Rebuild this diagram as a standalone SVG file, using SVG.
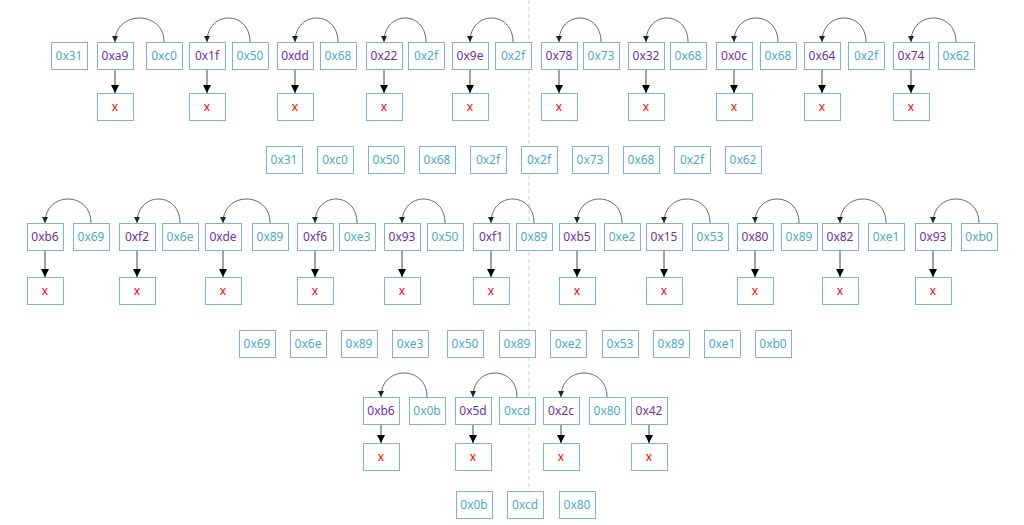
<svg xmlns="http://www.w3.org/2000/svg" width="1024" height="525" viewBox="0 0 1024 525">
<style>
.b{fill:#fff;stroke:#7DB4DE;stroke-width:1}
.t{font-family:"Noto Sans","DejaVu Sans",sans-serif;font-size:12px;text-anchor:middle}
.p{fill:#7030A0}.c{fill:#4BACC6}.r{fill:#FF0000}
.arc{fill:none;stroke:#666;stroke-width:1}
.dn{fill:none;stroke:#444;stroke-width:1}
.sep{stroke:#D0D0D0;stroke-width:1;stroke-dasharray:4 3}
</style>
<defs>
<marker id="ah" markerUnits="userSpaceOnUse" markerWidth="6" markerHeight="6" refX="6" refY="3" orient="auto"><path d="M0,0 L6,3 L0,6 z" fill="#222"/></marker>
<marker id="dh" markerUnits="userSpaceOnUse" markerWidth="8" markerHeight="8" refX="8" refY="4" orient="auto"><path d="M0,0 L8,4 L0,8 z" fill="#000"/></marker>
<symbol id="bx" overflow="visible"><rect class="b" x="0.5" y="0.5" width="36" height="27"/></symbol>
</defs>
<rect width="1024" height="525" fill="#fff"/>
<line class="sep" x1="529" y1="0" x2="529" y2="491"/>
<g id="connectors">
<path class="arc" marker-end="url(#ah)" d="M164,42 C164,10 115,10 115,42"/>
<path class="arc" marker-end="url(#ah)" d="M250,42 C250,10 207,10 207,42"/>
<path class="arc" marker-end="url(#ah)" d="M338,42 C338,10 295,10 295,42"/>
<path class="arc" marker-end="url(#ah)" d="M426,42 C426,10 384,10 384,42"/>
<path class="arc" marker-end="url(#ah)" d="M513,42 C513,10 470,10 470,42"/>
<path class="arc" marker-end="url(#ah)" d="M601,42 C601,10 559,10 559,42"/>
<path class="arc" marker-end="url(#ah)" d="M688,42 C688,10 646,10 646,42"/>
<path class="arc" marker-end="url(#ah)" d="M778,42 C778,10 734,10 734,42"/>
<path class="arc" marker-end="url(#ah)" d="M866,42 C866,10 822,10 822,42"/>
<path class="arc" marker-end="url(#ah)" d="M956,42 C956,10 911,10 911,42"/>
<path class="dn" marker-end="url(#dh)" d="M115,70 L115,93"/>
<path class="dn" marker-end="url(#dh)" d="M207,70 L207,93"/>
<path class="dn" marker-end="url(#dh)" d="M295,70 L295,93"/>
<path class="dn" marker-end="url(#dh)" d="M384,70 L384,93"/>
<path class="dn" marker-end="url(#dh)" d="M470,70 L470,93"/>
<path class="dn" marker-end="url(#dh)" d="M559,70 L559,93"/>
<path class="dn" marker-end="url(#dh)" d="M646,70 L646,93"/>
<path class="dn" marker-end="url(#dh)" d="M734,70 L734,93"/>
<path class="dn" marker-end="url(#dh)" d="M822,70 L822,93"/>
<path class="dn" marker-end="url(#dh)" d="M911,70 L911,93"/>
<path class="arc" marker-end="url(#ah)" d="M91,223 C91,191 45,191 45,223"/>
<path class="arc" marker-end="url(#ah)" d="M180,223 C180,191 137,191 137,223"/>
<path class="arc" marker-end="url(#ah)" d="M270,223 C270,191 223,191 223,223"/>
<path class="arc" marker-end="url(#ah)" d="M357,223 C357,191 315,191 315,223"/>
<path class="arc" marker-end="url(#ah)" d="M445,223 C445,191 402,191 402,223"/>
<path class="arc" marker-end="url(#ah)" d="M534,223 C534,191 491,191 491,223"/>
<path class="arc" marker-end="url(#ah)" d="M622,223 C622,191 577,191 577,223"/>
<path class="arc" marker-end="url(#ah)" d="M710,223 C710,191 664,191 664,223"/>
<path class="arc" marker-end="url(#ah)" d="M799,223 C799,191 755,191 755,223"/>
<path class="arc" marker-end="url(#ah)" d="M886,223 C886,191 840,191 840,223"/>
<path class="arc" marker-end="url(#ah)" d="M979,223 C979,191 933,191 933,223"/>
<path class="dn" marker-end="url(#dh)" d="M45,251 L45,277"/>
<path class="dn" marker-end="url(#dh)" d="M137,251 L137,277"/>
<path class="dn" marker-end="url(#dh)" d="M223,251 L223,277"/>
<path class="dn" marker-end="url(#dh)" d="M315,251 L315,277"/>
<path class="dn" marker-end="url(#dh)" d="M402,251 L402,277"/>
<path class="dn" marker-end="url(#dh)" d="M491,251 L491,277"/>
<path class="dn" marker-end="url(#dh)" d="M577,251 L577,277"/>
<path class="dn" marker-end="url(#dh)" d="M664,251 L664,277"/>
<path class="dn" marker-end="url(#dh)" d="M755,251 L755,277"/>
<path class="dn" marker-end="url(#dh)" d="M840,251 L840,277"/>
<path class="dn" marker-end="url(#dh)" d="M933,251 L933,277"/>
<path class="arc" marker-end="url(#ah)" d="M427,397 C427,365 381,365 381,397"/>
<path class="arc" marker-end="url(#ah)" d="M517,397 C517,365 473,365 473,397"/>
<path class="arc" marker-end="url(#ah)" d="M607,397 C607,365 561,365 561,397"/>
<path class="dn" marker-end="url(#dh)" d="M381,425 L381,443"/>
<path class="dn" marker-end="url(#dh)" d="M473,425 L473,443"/>
<path class="dn" marker-end="url(#dh)" d="M561,425 L561,443"/>
<path class="dn" marker-end="url(#dh)" d="M649,425 L649,443"/>
</g>
<!-- Row 1 -->
<g id="r1-0x31"><use href="#bx" x="51" y="42"/><text class="t c" x="69" y="60">0x31</text></g>
<g id="r1-0xa9"><use href="#bx" x="97" y="42"/><text class="t p" x="115" y="60">0xa9</text></g>
<g id="r1-0xc0"><use href="#bx" x="146" y="42"/><text class="t c" x="164" y="60">0xc0</text></g>
<g id="r1-0x1f"><use href="#bx" x="189" y="42"/><text class="t p" x="207" y="60">0x1f</text></g>
<g id="r1-0x50"><use href="#bx" x="232" y="42"/><text class="t c" x="250" y="60">0x50</text></g>
<g id="r1-0xdd"><use href="#bx" x="277" y="42"/><text class="t p" x="295" y="60">0xdd</text></g>
<g id="r1-0x68a"><use href="#bx" x="320" y="42"/><text class="t c" x="338" y="60">0x68</text></g>
<g id="r1-0x22"><use href="#bx" x="366" y="42"/><text class="t p" x="384" y="60">0x22</text></g>
<g id="r1-0x2fa"><use href="#bx" x="408" y="42"/><text class="t c" x="426" y="60">0x2f</text></g>
<g id="r1-0x9e"><use href="#bx" x="452" y="42"/><text class="t p" x="470" y="60">0x9e</text></g>
<g id="r1-0x2fb"><use href="#bx" x="495" y="42"/><text class="t c" x="513" y="60">0x2f</text></g>
<g id="r1-0x78"><use href="#bx" x="541" y="42"/><text class="t p" x="559" y="60">0x78</text></g>
<g id="r1-0x73"><use href="#bx" x="583" y="42"/><text class="t c" x="601" y="60">0x73</text></g>
<g id="r1-0x32"><use href="#bx" x="628" y="42"/><text class="t p" x="646" y="60">0x32</text></g>
<g id="r1-0x68b"><use href="#bx" x="670" y="42"/><text class="t c" x="688" y="60">0x68</text></g>
<g id="r1-0x0c"><use href="#bx" x="716" y="42"/><text class="t p" x="734" y="60">0x0c</text></g>
<g id="r1-0x68c"><use href="#bx" x="760" y="42"/><text class="t c" x="778" y="60">0x68</text></g>
<g id="r1-0x64"><use href="#bx" x="804" y="42"/><text class="t p" x="822" y="60">0x64</text></g>
<g id="r1-0x2fc"><use href="#bx" x="848" y="42"/><text class="t c" x="866" y="60">0x2f</text></g>
<g id="r1-0x74"><use href="#bx" x="893" y="42"/><text class="t p" x="911" y="60">0x74</text></g>
<g id="r1-0x62"><use href="#bx" x="938" y="42"/><text class="t c" x="956" y="60">0x62</text></g>
<g id="r1-x1"><use href="#bx" x="97" y="93"/><text class="t r" x="115" y="111">x</text></g>
<g id="r1-x2"><use href="#bx" x="189" y="93"/><text class="t r" x="207" y="111">x</text></g>
<g id="r1-x3"><use href="#bx" x="277" y="93"/><text class="t r" x="295" y="111">x</text></g>
<g id="r1-x4"><use href="#bx" x="366" y="93"/><text class="t r" x="384" y="111">x</text></g>
<g id="r1-x5"><use href="#bx" x="452" y="93"/><text class="t r" x="470" y="111">x</text></g>
<g id="r1-x6"><use href="#bx" x="541" y="93"/><text class="t r" x="559" y="111">x</text></g>
<g id="r1-x7"><use href="#bx" x="628" y="93"/><text class="t r" x="646" y="111">x</text></g>
<g id="r1-x8"><use href="#bx" x="716" y="93"/><text class="t r" x="734" y="111">x</text></g>
<g id="r1-x9"><use href="#bx" x="804" y="93"/><text class="t r" x="822" y="111">x</text></g>
<g id="r1-x10"><use href="#bx" x="893" y="93"/><text class="t r" x="911" y="111">x</text></g>
<!-- Row 2 -->
<g id="r2-1"><use href="#bx" x="266" y="146"/><text class="t c" x="284" y="164">0x31</text></g>
<g id="r2-2"><use href="#bx" x="317" y="146"/><text class="t c" x="335" y="164">0xc0</text></g>
<g id="r2-3"><use href="#bx" x="368" y="146"/><text class="t c" x="386" y="164">0x50</text></g>
<g id="r2-4"><use href="#bx" x="419" y="146"/><text class="t c" x="437" y="164">0x68</text></g>
<g id="r2-5"><use href="#bx" x="470" y="146"/><text class="t c" x="488" y="164">0x2f</text></g>
<g id="r2-6"><use href="#bx" x="521" y="146"/><text class="t c" x="539" y="164">0x2f</text></g>
<g id="r2-7"><use href="#bx" x="572" y="146"/><text class="t c" x="590" y="164">0x73</text></g>
<g id="r2-8"><use href="#bx" x="623" y="146"/><text class="t c" x="641" y="164">0x68</text></g>
<g id="r2-9"><use href="#bx" x="674" y="146"/><text class="t c" x="692" y="164">0x2f</text></g>
<g id="r2-10"><use href="#bx" x="725" y="146"/><text class="t c" x="743" y="164">0x62</text></g>
<!-- Row 3 -->
<g id="r3-0xb6"><use href="#bx" x="27" y="223"/><text class="t p" x="45" y="241">0xb6</text></g>
<g id="r3-0x69"><use href="#bx" x="73" y="223"/><text class="t c" x="91" y="241">0x69</text></g>
<g id="r3-0xf2"><use href="#bx" x="119" y="223"/><text class="t p" x="137" y="241">0xf2</text></g>
<g id="r3-0x6e"><use href="#bx" x="162" y="223"/><text class="t c" x="180" y="241">0x6e</text></g>
<g id="r3-0xde"><use href="#bx" x="205" y="223"/><text class="t p" x="223" y="241">0xde</text></g>
<g id="r3-0x89a"><use href="#bx" x="252" y="223"/><text class="t c" x="270" y="241">0x89</text></g>
<g id="r3-0xf6"><use href="#bx" x="297" y="223"/><text class="t p" x="315" y="241">0xf6</text></g>
<g id="r3-0xe3"><use href="#bx" x="339" y="223"/><text class="t c" x="357" y="241">0xe3</text></g>
<g id="r3-0x93a"><use href="#bx" x="384" y="223"/><text class="t p" x="402" y="241">0x93</text></g>
<g id="r3-0x50"><use href="#bx" x="427" y="223"/><text class="t c" x="445" y="241">0x50</text></g>
<g id="r3-0xf1"><use href="#bx" x="473" y="223"/><text class="t p" x="491" y="241">0xf1</text></g>
<g id="r3-0x89b"><use href="#bx" x="516" y="223"/><text class="t c" x="534" y="241">0x89</text></g>
<g id="r3-0xb5"><use href="#bx" x="559" y="223"/><text class="t p" x="577" y="241">0xb5</text></g>
<g id="r3-0xe2"><use href="#bx" x="604" y="223"/><text class="t c" x="622" y="241">0xe2</text></g>
<g id="r3-0x15"><use href="#bx" x="646" y="223"/><text class="t p" x="664" y="241">0x15</text></g>
<g id="r3-0x53"><use href="#bx" x="692" y="223"/><text class="t c" x="710" y="241">0x53</text></g>
<g id="r3-0x80"><use href="#bx" x="737" y="223"/><text class="t p" x="755" y="241">0x80</text></g>
<g id="r3-0x89c"><use href="#bx" x="781" y="223"/><text class="t c" x="799" y="241">0x89</text></g>
<g id="r3-0x82"><use href="#bx" x="822" y="223"/><text class="t p" x="840" y="241">0x82</text></g>
<g id="r3-0xe1"><use href="#bx" x="868" y="223"/><text class="t c" x="886" y="241">0xe1</text></g>
<g id="r3-0x93b"><use href="#bx" x="915" y="223"/><text class="t p" x="933" y="241">0x93</text></g>
<g id="r3-0xb0"><use href="#bx" x="961" y="223"/><text class="t c" x="979" y="241">0xb0</text></g>
<g id="r3-x1"><use href="#bx" x="27" y="277"/><text class="t r" x="45" y="295">x</text></g>
<g id="r3-x2"><use href="#bx" x="119" y="277"/><text class="t r" x="137" y="295">x</text></g>
<g id="r3-x3"><use href="#bx" x="205" y="277"/><text class="t r" x="223" y="295">x</text></g>
<g id="r3-x4"><use href="#bx" x="297" y="277"/><text class="t r" x="315" y="295">x</text></g>
<g id="r3-x5"><use href="#bx" x="384" y="277"/><text class="t r" x="402" y="295">x</text></g>
<g id="r3-x6"><use href="#bx" x="473" y="277"/><text class="t r" x="491" y="295">x</text></g>
<g id="r3-x7"><use href="#bx" x="559" y="277"/><text class="t r" x="577" y="295">x</text></g>
<g id="r3-x8"><use href="#bx" x="646" y="277"/><text class="t r" x="664" y="295">x</text></g>
<g id="r3-x9"><use href="#bx" x="737" y="277"/><text class="t r" x="755" y="295">x</text></g>
<g id="r3-x10"><use href="#bx" x="822" y="277"/><text class="t r" x="840" y="295">x</text></g>
<g id="r3-x11"><use href="#bx" x="915" y="277"/><text class="t r" x="933" y="295">x</text></g>
<!-- Row 4 -->
<g id="r4-1"><use href="#bx" x="239" y="330"/><text class="t c" x="257" y="348">0x69</text></g>
<g id="r4-2"><use href="#bx" x="290" y="330"/><text class="t c" x="308" y="348">0x6e</text></g>
<g id="r4-3"><use href="#bx" x="341" y="330"/><text class="t c" x="359" y="348">0x89</text></g>
<g id="r4-4"><use href="#bx" x="392" y="330"/><text class="t c" x="410" y="348">0xe3</text></g>
<g id="r4-5"><use href="#bx" x="447" y="330"/><text class="t c" x="465" y="348">0x50</text></g>
<g id="r4-6"><use href="#bx" x="499" y="330"/><text class="t c" x="517" y="348">0x89</text></g>
<g id="r4-7"><use href="#bx" x="550" y="330"/><text class="t c" x="568" y="348">0xe2</text></g>
<g id="r4-8"><use href="#bx" x="602" y="330"/><text class="t c" x="620" y="348">0x53</text></g>
<g id="r4-9"><use href="#bx" x="653" y="330"/><text class="t c" x="671" y="348">0x89</text></g>
<g id="r4-10"><use href="#bx" x="704" y="330"/><text class="t c" x="722" y="348">0xe1</text></g>
<g id="r4-11"><use href="#bx" x="755" y="330"/><text class="t c" x="773" y="348">0xb0</text></g>
<!-- Row 5 -->
<g id="r5-0xb6"><use href="#bx" x="363" y="397"/><text class="t p" x="381" y="415">0xb6</text></g>
<g id="r5-0x0b"><use href="#bx" x="409" y="397"/><text class="t c" x="427" y="415">0x0b</text></g>
<g id="r5-0x5d"><use href="#bx" x="455" y="397"/><text class="t p" x="473" y="415">0x5d</text></g>
<g id="r5-0xcd"><use href="#bx" x="499" y="397"/><text class="t c" x="517" y="415">0xcd</text></g>
<g id="r5-0x2c"><use href="#bx" x="543" y="397"/><text class="t p" x="561" y="415">0x2c</text></g>
<g id="r5-0x80"><use href="#bx" x="589" y="397"/><text class="t c" x="607" y="415">0x80</text></g>
<g id="r5-0x42"><use href="#bx" x="631" y="397"/><text class="t p" x="649" y="415">0x42</text></g>
<g id="r5-x1"><use href="#bx" x="363" y="443"/><text class="t r" x="381" y="461">x</text></g>
<g id="r5-x2"><use href="#bx" x="455" y="443"/><text class="t r" x="473" y="461">x</text></g>
<g id="r5-x3"><use href="#bx" x="543" y="443"/><text class="t r" x="561" y="461">x</text></g>
<g id="r5-x4"><use href="#bx" x="631" y="443"/><text class="t r" x="649" y="461">x</text></g>
<!-- Row 6 -->
<g id="r6-1"><use href="#bx" x="456" y="491"/><text class="t c" x="474" y="509">0x0b</text></g>
<g id="r6-2"><use href="#bx" x="507" y="491"/><text class="t c" x="525" y="509">0xcd</text></g>
<g id="r6-3"><use href="#bx" x="559" y="491"/><text class="t c" x="577" y="509">0x80</text></g>
</svg>
